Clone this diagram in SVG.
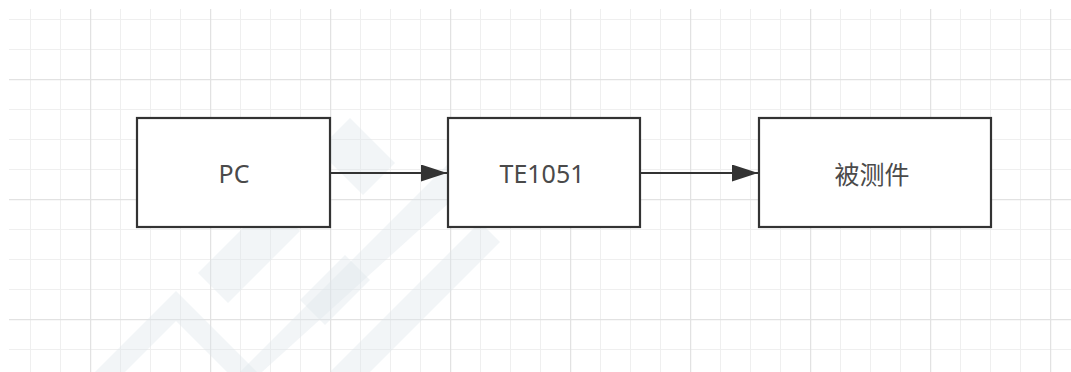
<svg xmlns="http://www.w3.org/2000/svg" width="1071" height="372" viewBox="0 0 1071 372">
  <style>
    .box { fill: #ffffff; stroke: #333333; stroke-width: 2.2; }
    .label { font-family: "Noto Sans", "Noto Sans CJK SC", sans-serif; font-size: 25px; fill: #4a4a4a; text-anchor: middle; }
    .cjk { font-family: "Noto Sans CJK SC", sans-serif; }
    .edge { stroke: #333333; stroke-width: 2; fill: none; marker-end: url(#arrow); }
    .wm { fill: #dfe7ea; opacity: 0.4; }
  </style>
  <defs>
    <pattern id="minor" width="30" height="30" patternUnits="userSpaceOnUse" x="0" y="19">
      <path d="M0 0.5 H30 M0.5 0 V30" stroke="#efefef" stroke-width="1" fill="none"/>
    </pattern>
    <pattern id="major" width="120" height="120" patternUnits="userSpaceOnUse" x="90" y="79">
      <path d="M0 0.5 H120 M0.5 0 V120" stroke="#e2e2e2" stroke-width="1.5" fill="none"/>
    </pattern>
    <marker id="arrow" viewBox="0 0 26 17" refX="26" refY="8.5" markerWidth="26" markerHeight="17" markerUnits="userSpaceOnUse" orient="auto">
      <path d="M0 0 L26 8.5 L0 17 Z" fill="#333333"/>
    </marker>
  </defs>

  <rect x="0" y="0" width="1071" height="372" fill="#ffffff"/>
  <g id="grid">
    <rect x="9" y="9" width="1062" height="363" fill="url(#minor)"/>
    <rect x="9" y="9" width="1062" height="363" fill="url(#major)"/>
  </g>

  <g id="watermark">
    <polygon class="wm" points="95,372 176,291 257,372 227,372 176,321 125,372"/>
    <polygon class="wm" points="198,273 270,201 300,231 228,303"/>
    <polygon class="wm" points="240,372 470,142 492,164 262,372"/>
    <polygon class="wm" points="300,300 345,255 370,280 325,325"/>
    <polygon class="wm" points="330,372 480,222 500,242 370,372"/>
    <polygon class="wm" points="318,150 350,118 395,163 363,195"/>
  </g>

  <g id="connectors">
    <line class="edge" x1="331" y1="173" x2="447" y2="173"/>
    <line class="edge" x1="641" y1="173" x2="758" y2="173"/>
  </g>

  <g id="node-pc">
    <rect class="box" x="137" y="118" width="193" height="109"/>
    <text class="label" x="234" y="183">PC</text>
  </g>
  <g id="node-te1051">
    <rect class="box" x="448" y="118" width="192" height="109"/>
    <text class="label" x="542" y="183">TE1051</text>
  </g>
  <g id="node-dut">
    <rect class="box" x="759" y="118" width="232" height="109"/>
    <text class="label cjk" x="872" y="184">被测件</text>
  </g>
</svg>
